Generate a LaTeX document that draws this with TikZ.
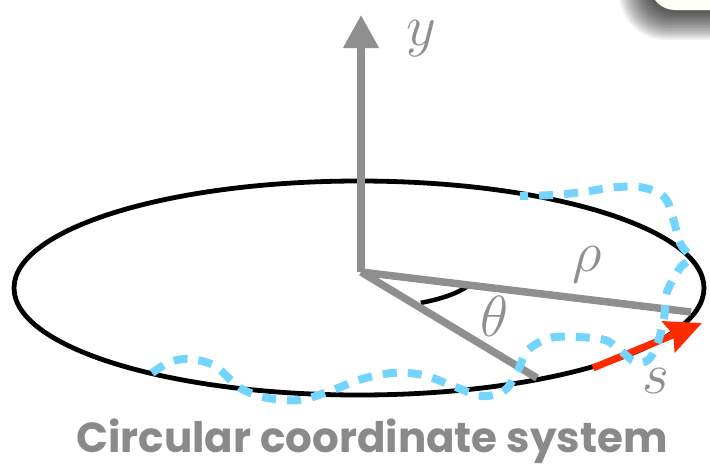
\RequirePackage{fix-cm}
\documentclass[tikz,border=0pt]{standalone}
\usepackage{fontspec}
\usetikzlibrary{arrows.meta}
\newfontfamily\titlefont{Poppins}
\definecolor{axisgray}{HTML}{8F8F8F}
\definecolor{dashblue}{HTML}{73D4FD}
\definecolor{arrowred}{HTML}{FF2A00}
\definecolor{titlegray}{HTML}{8A8A8A}
\definecolor{cream}{HTML}{FFFFF6}
\tikzset{
  grayline/.style={draw=axisgray, line width=7.5pt},
  mathlabel/.style={text=axisgray, font=\fontsize{58}{58}\selectfont, inner sep=0pt},
  bluepath/.style={draw=dashblue, line width=8pt, dash pattern=on 14pt off 11pt},
  shadowlayer/.style={fill=black, fill opacity=0.05, draw=none},
}
\begin{document}
\begin{tikzpicture}[x=1pt,y=-1pt]
\useasboundingbox (0,0) rectangle (710,472);
% top-right card corner with soft shadow
\begin{scope}
\clip (0,0) rectangle (710,472);
\foreach \i in {0,...,18}{
  \fill[shadowlayer, rounded corners={25pt+1.2pt*\i}]
    ({648-1.6*\i},-60) rectangle (780,{13+1.5*\i});
}
\node[fill=cream, rounded corners=25pt, minimum width=120pt, minimum height=50pt]
      (card) at (710,-15) {};
\end{scope}
% ellipse
\draw[line width=4.8pt] (359,288) ellipse [x radius=345, y radius=107];
% points
\coordinate (O) at (361,272);
\coordinate (Y) at (361,15);
\coordinate (R) at (691,312);
\coordinate (T) at (537,378);
\coordinate (S0) at (593,368);
\coordinate (S1) at (702,323);
% angle arc
\draw[line width=4.5pt] ([shift={(59:116 and 36)}]O) arc [start angle=59, end angle=24, x radius=116, y radius=36];
% axes
\draw[grayline, -{Triangle[length=33pt,width=34pt]}] (O) -- (Y);
\draw[grayline] (O) -- (R);
\draw[grayline] (O) -- (T);
% red arrow
\draw[draw=arrowred, line width=7pt, -{Stealth[length=36pt,width=33pt,inset=5pt]}] (S0) -- (S1);
% blue dashed curve
\draw[bluepath] plot[smooth, tension=0.55] coordinates {
 (152,373) (170,362) (190,359) (215,366) (240,388) (268,398) (300,400) (330,391)
 (362,379) (393,373) (423,375) (453,386) (482,396) (505,390) (518,370) (528,350)
 (550,338) (577,337) (605,340) (620,350) (635,362) (648,360) (657,345) (664,318)
 (667,292) (680,268) (690,258) (680,243) (673,218) (665,198) (645,188) (617,187)
 (583,192) (553,195) (520,196)};
% labels
\node[mathlabel] (ly) at (421,39) {$y$};
\node[mathlabel] (lr) at (587,265) {$\rho$};
\node[mathlabel] (lt) at (495,316) {$\theta$};
\node[mathlabel] (ls) at (656,381) {$s$};
\node[text=titlegray, font=\titlefont\bfseries\fontsize{42}{42}\selectfont, anchor=base, inner sep=0pt]
  (title) at (372,452) {Circular coordinate system};
\end{tikzpicture}
\end{document}
